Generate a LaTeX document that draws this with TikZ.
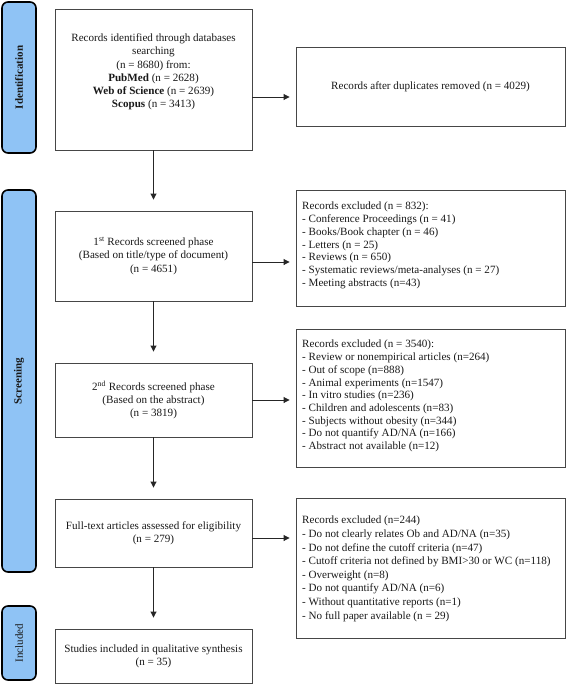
\documentclass[tikz,border=0pt]{standalone}
\usepackage{fontspec}
\setmainfont{Liberation Serif}
\usetikzlibrary{arrows.meta,calc}
\definecolor{barblue}{RGB}{143,195,245}
\definecolor{boxline}{RGB}{70,70,70}
\definecolor{txt}{RGB}{25,25,25}
\begin{document}
\begin{tikzpicture}[x=1pt,y=-1pt,
  phase/.style={draw=black,line width=1.6pt,fill=barblue,rounded corners=6pt,inner sep=0pt,minimum width=34pt},
  phasetext/.style={rotate=90,font=\fontsize{11}{13}\selectfont,text=txt},
  mainbox/.style={draw=boxline,line width=0.9pt,inner sep=0pt,minimum width=197pt},
  sidebox/.style={draw=boxline,line width=0.9pt,inner sep=0pt,minimum width=269pt},
  ctext/.style={align=center,inner sep=0pt,text=txt,font=\fontsize{11.1}{13.3}\selectfont},
  ltext/.style={align=left,inner sep=0pt,anchor=north west,text=txt,font=\fontsize{11.1}{12.7}\selectfont},
  flow/.style={draw=black!85,line width=0.9pt,-{Triangle[length=6pt,width=6pt]}},
]
\useasboundingbox (0,0) rectangle (566,685);
% phase bars
\node[phase,minimum height=151pt] (pid) at (19,77.5) {};
\node[phasetext] (lid) at (pid.center) {\textbf{Identification}};
\node[phase,minimum height=382pt] (psc) at (19,381) {};
\node[phasetext] (lsc) at (psc.center) {\textbf{Screening}};
\node[phase,minimum height=74pt] (pin) at (19,643) {};
\node[phasetext] (lin) at (pin.center) {Included};
% main column
\node[mainbox,minimum height=141pt] (b1) at (153.5,79.5) {};
\node[ctext] (t1) at (153.5,72) {Records identified through databases\\searching\\(n = 8680) from:\\\textbf{PubMed} (n = 2628)\\\textbf{Web of Science} (n = 2639)\\\textbf{Scopus} (n = 3413)};
\node[mainbox,minimum height=90pt,ctext] (b2) at (153.5,256) {1\textsuperscript{st} Records screened phase\\(Based on title/type of document)\\(n = 4651)};
\node[mainbox,minimum height=74pt,ctext] (b3) at (153.5,400) {2\textsuperscript{nd} Records screened phase\\(Based on the abstract)\\(n = 3819)};
\node[mainbox,minimum height=68pt,ctext] (b4) at (153.5,533) {Full-text articles assessed for eligibility\\(n = 279)};
\node[mainbox,minimum height=54pt,ctext] (b5) at (153.5,656) {Studies included in qualitative synthesis\\(n = 35)};
% side column
\node[sidebox,minimum height=79pt,ctext] (r1) at (430.5,86.5) {Records after duplicates removed (n = 4029)};
\node[sidebox,minimum height=116pt] (r2) at (430.5,248) {};
\node[ltext] (s2) at (302,202) {Records excluded (n = 832):\\- Conference Proceedings (n = 41)\\- Books/Book chapter (n = 46)\\- Letters (n = 25)\\- Reviews (n = 650)\\- Systematic reviews/meta-analyses (n = 27)\\- Meeting abstracts (n=43)};
\node[sidebox,minimum height=138pt] (r3) at (430.5,398) {};
\node[ltext] (s3) at (302,340) {Records excluded (n = 3540):\\- Review or nonempirical articles (n=264)\\- Out of scope (n=888)\\- Animal experiments (n=1547)\\- In vitro studies (n=236)\\- Children and adolescents (n=83)\\- Subjects without obesity (n=344)\\- Do not quantify AD/NA (n=166)\\- Abstract not available (n=12)};
\node[sidebox,minimum height=140pt] (r4) at (430.5,568) {};
\node[ltext,font=\fontsize{11.1}{13.6}\selectfont] (s4) at (302,516) {Records excluded (n=244)\\- Do not clearly relates Ob and AD/NA (n=35)\\- Do not define the cutoff criteria (n=47)\\- Cutoff criteria not defined by BMI>30 or WC (n=118)\\- Overweight (n=8)\\- Do not quantify AD/NA (n=6)\\- Without quantitative reports (n=1)\\- No full paper available (n = 29)};
% vertical connectors
\draw[flow,shorten >=11pt] (b1.south) -- (b2.north);
\draw[flow,shorten >=11pt] (b2.south) -- (b3.north);
\draw[flow,shorten >=11pt] (b3.south) -- (b4.north);
\draw[flow,shorten >=11pt] (b4.south) -- (b5.north);
% horizontal connectors
\draw[flow,shorten >=6pt] (b1.east |- 0,97) -- (r1.west |- 0,97);
\draw[flow,shorten >=6pt] (b2.east |- 0,262) -- (r2.west |- 0,262);
\draw[flow,shorten >=6pt] (b3.east |- 0,400) -- (r3.west |- 0,400);
\draw[flow,shorten >=6pt] (b4.east |- 0,538) -- (r4.west |- 0,538);
\end{tikzpicture}
\end{document}
